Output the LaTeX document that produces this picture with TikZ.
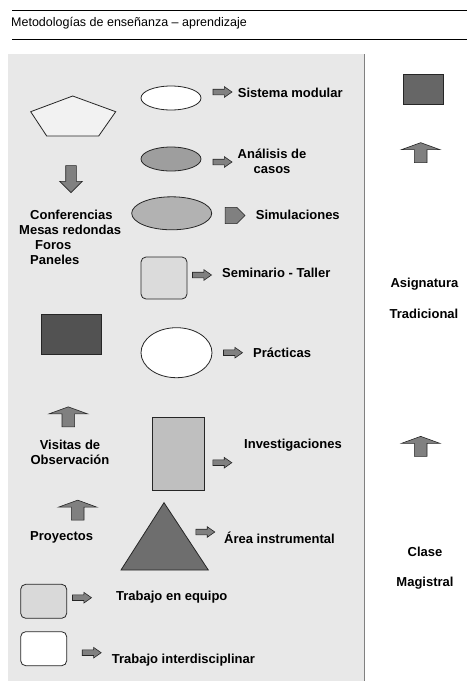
\documentclass[tikz,border=0pt]{standalone}
\usepackage{fontspec}
\setmainfont{Liberation Sans}
\usetikzlibrary{shapes.geometric,shapes.arrows}

\definecolor{panelgray}{HTML}{E8E8E8}
\definecolor{edgegray}{HTML}{262626}
\definecolor{arrowgray}{HTML}{808080}

\begin{document}
\begin{tikzpicture}[x=1pt,y=-1pt,
  lbl/.style={font=\fontsize{13}{15}\selectfont\bfseries, inner sep=0pt},
  shp/.style={draw=edgegray, line width=0.8pt},
  rarr/.style={single arrow, draw=edgegray, fill=arrowgray, line width=0.6pt, inner xsep=0pt, inner ysep=2.5pt,
    minimum height=19pt, single arrow head extend=2.5pt, single arrow tip angle=70},
  uarr/.style={single arrow, draw=edgegray, fill=arrowgray, line width=0.6pt, inner xsep=0pt, inner ysep=6pt, rotate=90,
    minimum height=20pt, single arrow head extend=13pt, single arrow tip angle=140}]
\useasboundingbox (0,0) rectangle (467,686);

% header
\draw[line width=0.8pt] (12,10) -- (467,10);
\draw[line width=0.8pt] (12,39) -- (467,39);
\node[anchor=west, inner sep=0pt, font=\fontsize{12.5}{14}\selectfont] (title) at (11,23.5) {Metodologías de enseñanza – aprendizaje};

% panel
\fill[panelgray] (8,54) rectangle (364,681);
\draw[gray, line width=0.8pt] (364,54) -- (364,681);

% left column
\draw[shp, fill=black!5] (72.7,96) -- (115.7,111.7) -- (98.7,136) -- (46.7,136) -- (30.7,111.7) -- cycle;
\coordinate (penta) at (72.7,116);
\node[single arrow, draw=edgegray, fill=arrowgray, line width=0.6pt, inner xsep=0pt, inner ysep=5pt, rotate=-90,
  minimum height=27pt, single arrow head extend=6pt] (down) at (71,176.5) {};
\node[lbl, anchor=west] (conf) at (30,215) {Conferencias};
\node[lbl, anchor=west] (mesas) at (19,230) {Mesas redondas};
\node[lbl, anchor=west] (foros) at (35,245) {Foros};
\node[lbl, anchor=west] (pan) at (30,260) {Paneles};

\node[shp, rectangle, fill=black!68, minimum width=60pt, minimum height=40pt, inner sep=0pt] (darkbox) at (71.3,334.8) {};
\node[uarr] (upvis) at (68.3,418) {};
\node[lbl, align=center] (visitas) at (70,452.5) {Visitas de\\Observación};
\node[uarr] (uppro) at (77.7,511.3) {};
\node[lbl, anchor=west] (proy) at (30,537.3) {Proyectos};

\node[shp, rectangle, rounded corners=5pt, fill=black!15, minimum width=46pt, minimum height=34pt, inner sep=0pt] (equipo) at (43.7,601.3) {};
\node[rarr] (aequipo) at (80,597.7) {};
\node[lbl, anchor=west] (tequipo) at (116,597) {Trabajo en equipo};
\node[shp, rectangle, rounded corners=5pt, fill=white, minimum width=46pt, minimum height=34pt, inner sep=0pt] (inter) at (43.7,648.7) {};
\node[rarr] (ainter) at (89.7,652.7) {};
\node[lbl, anchor=west] (tinter) at (111.7,660) {Trabajo interdisciplinar};

% middle column
\node[shp, ellipse, fill=white, minimum width=60pt, minimum height=24pt, inner sep=0pt] (modular) at (171,98) {};
\node[rarr] (amodular) at (220.5,92) {};
\node[lbl, anchor=west] (tmodular) at (237.7,92.7) {Sistema modular};

\node[shp, ellipse, fill=black!38, minimum width=60pt, minimum height=24pt, inner sep=0pt] (casos) at (171,159) {};
\node[rarr] (acasos) at (220.5,162) {};
\node[lbl, align=center] (tcasos) at (272,161.5) {Análisis de\\casos};

\node[shp, ellipse, fill=black!30, minimum width=80pt, minimum height=33pt, inner sep=0pt] (simul) at (171.7,213.3) {};
\node[single arrow, draw=edgegray, fill=arrowgray, line width=0.6pt, inner xsep=0pt, inner ysep=7.8pt,
  minimum height=20pt, single arrow head extend=0pt, single arrow tip angle=90] (asimul) at (231,215.5) {};
\node[lbl, anchor=west] (tsimul) at (255.7,215) {Simulaciones};

\node[shp, rectangle, rounded corners=5pt, fill=black!14, minimum width=46pt, minimum height=42pt, inner sep=0pt] (seminario) at (164,278) {};
\node[rarr] (asem) at (200,275) {};
\node[lbl, anchor=west] (tsem) at (222,273) {Seminario - Taller};

\node[shp, ellipse, fill=white, minimum width=71pt, minimum height=50pt, inner sep=0pt] (practicas) at (176.5,352.7) {};
\node[rarr] (aprac) at (231,352.7) {};
\node[lbl, anchor=west] (tprac) at (253,352.7) {Prácticas};

\node[shp, rectangle, fill=black!25, minimum width=52pt, minimum height=73pt, inner sep=0pt] (invest) at (178,454) {};
\node[rarr] (ainv) at (220.3,462.7) {};
\node[lbl, anchor=west] (tinv) at (244,445) {Investigaciones};

\draw[shp, fill=black!57] (164,502.7) -- (208.3,570) -- (121,570) -- cycle;
\coordinate (instr) at (164,548);
\node[rarr] (ainstr) at (203.3,532) {};
\node[lbl, anchor=west] (tinstr) at (224,537.3) {Área instrumental};

% right column
\node[shp, rectangle, fill=black!60, minimum width=40pt, minimum height=30pt, inner sep=0pt] (rightbox) at (423.3,89.2) {};
\node[uarr] (upasig) at (420.7,153.8) {};
\node[lbl] (asig) at (424.5,284) {Asignatura};
\node[lbl] (trad) at (424,314) {Tradicional};
\node[uarr] (upclase) at (420.7,447.5) {};
\node[lbl] (clase) at (425,551.7) {Clase};
\node[lbl] (magis) at (425,582.7) {Magistral};

\end{tikzpicture}
\end{document}
